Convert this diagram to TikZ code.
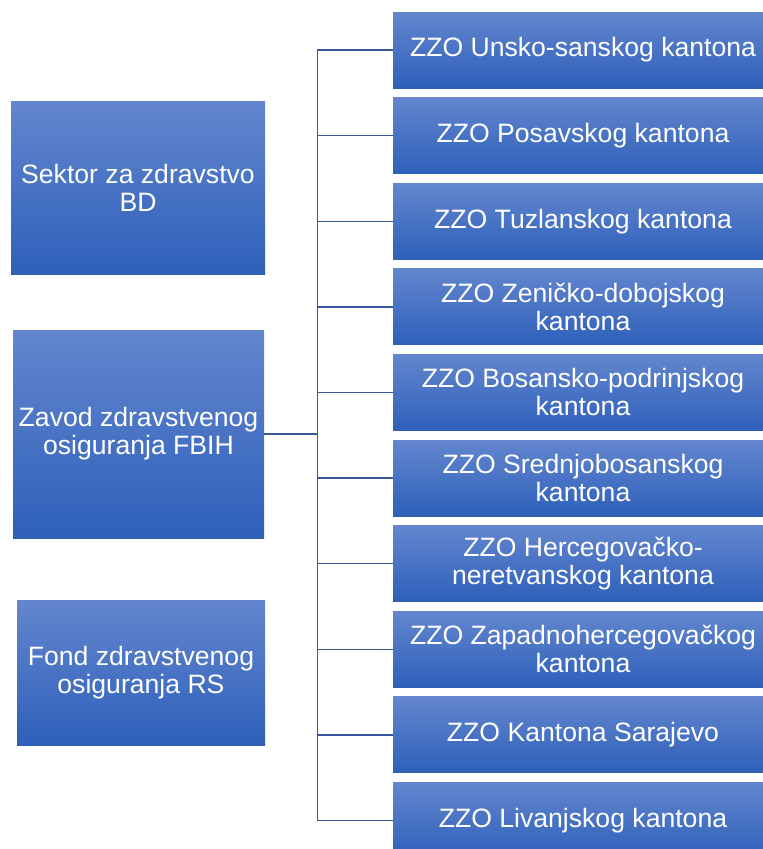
\documentclass[tikz,border=0pt]{standalone}
\usepackage{fontspec}
\setmainfont{Liberation Sans}
\definecolor{boxtop}{RGB}{99,134,206}
\definecolor{boxbot}{RGB}{46,96,186}
\definecolor{linecol}{RGB}{55,88,155}
\begin{document}
\begin{tikzpicture}[x=1pt,y=-1pt,
  orgbox/.style={rectangle, inner sep=0pt, top color=boxtop, bottom color=boxbot,
    text=white, align=center, font=\fontsize{26.6}{28}\selectfont},
  leftbox/.style={orgbox},
  rightbox/.style={orgbox, minimum width=380pt, minimum height=76pt},
  conn/.style={draw=linecol, line width=1.4pt}]
\useasboundingbox[fill=white] (0,0) rectangle (763,849);
\clip (0,0) rectangle (763,849);
\node[leftbox, minimum width=254pt, minimum height=173pt] (sektor) at (138,187.5) {Sektor za zdravstvo\\BD};
\node[leftbox, minimum width=251pt, minimum height=208pt] (zavod) at (138.5,434) {Zavod zdravstvenog\\osiguranja FBIH};
\node[leftbox, minimum width=248pt, minimum height=145pt] (fond) at (141,672.5) {Fond zdravstvenog\\osiguranja RS};
\coordinate (bus) at (317.7,0);
\node[rightbox] (r1) at (583,50) {ZZO Unsko-sanskog kantona};
\node[rightbox] (r2) at (583,135.6) {ZZO Posavskog kantona};
\node[rightbox] (r3) at (583,221.2) {ZZO Tuzlanskog kantona};
\node[rightbox] (r4) at (583,306.8) {ZZO Zeničko-dobojskog\\kantona};
\node[rightbox] (r5) at (583,392.4) {ZZO Bosansko-podrinjskog\\kantona};
\node[rightbox] (r6) at (583,478) {ZZO Srednjobosanskog\\kantona};
\node[rightbox] (r7) at (583,563.6) {ZZO Hercegovačko-\\neretvanskog kantona};
\node[rightbox] (r8) at (583,649.2) {ZZO Zapadnohercegovačkog\\kantona};
\node[rightbox] (r9) at (583,734.8) {ZZO Kantona Sarajevo};
\node[rightbox] (r10) at (583,820.4) {ZZO Livanjskog kantona};
\foreach \i in {1,...,10}{
  \draw[conn] (zavod.east) -- (zavod.east -| bus) |- (r\i.west);
}
\end{tikzpicture}
\end{document}
